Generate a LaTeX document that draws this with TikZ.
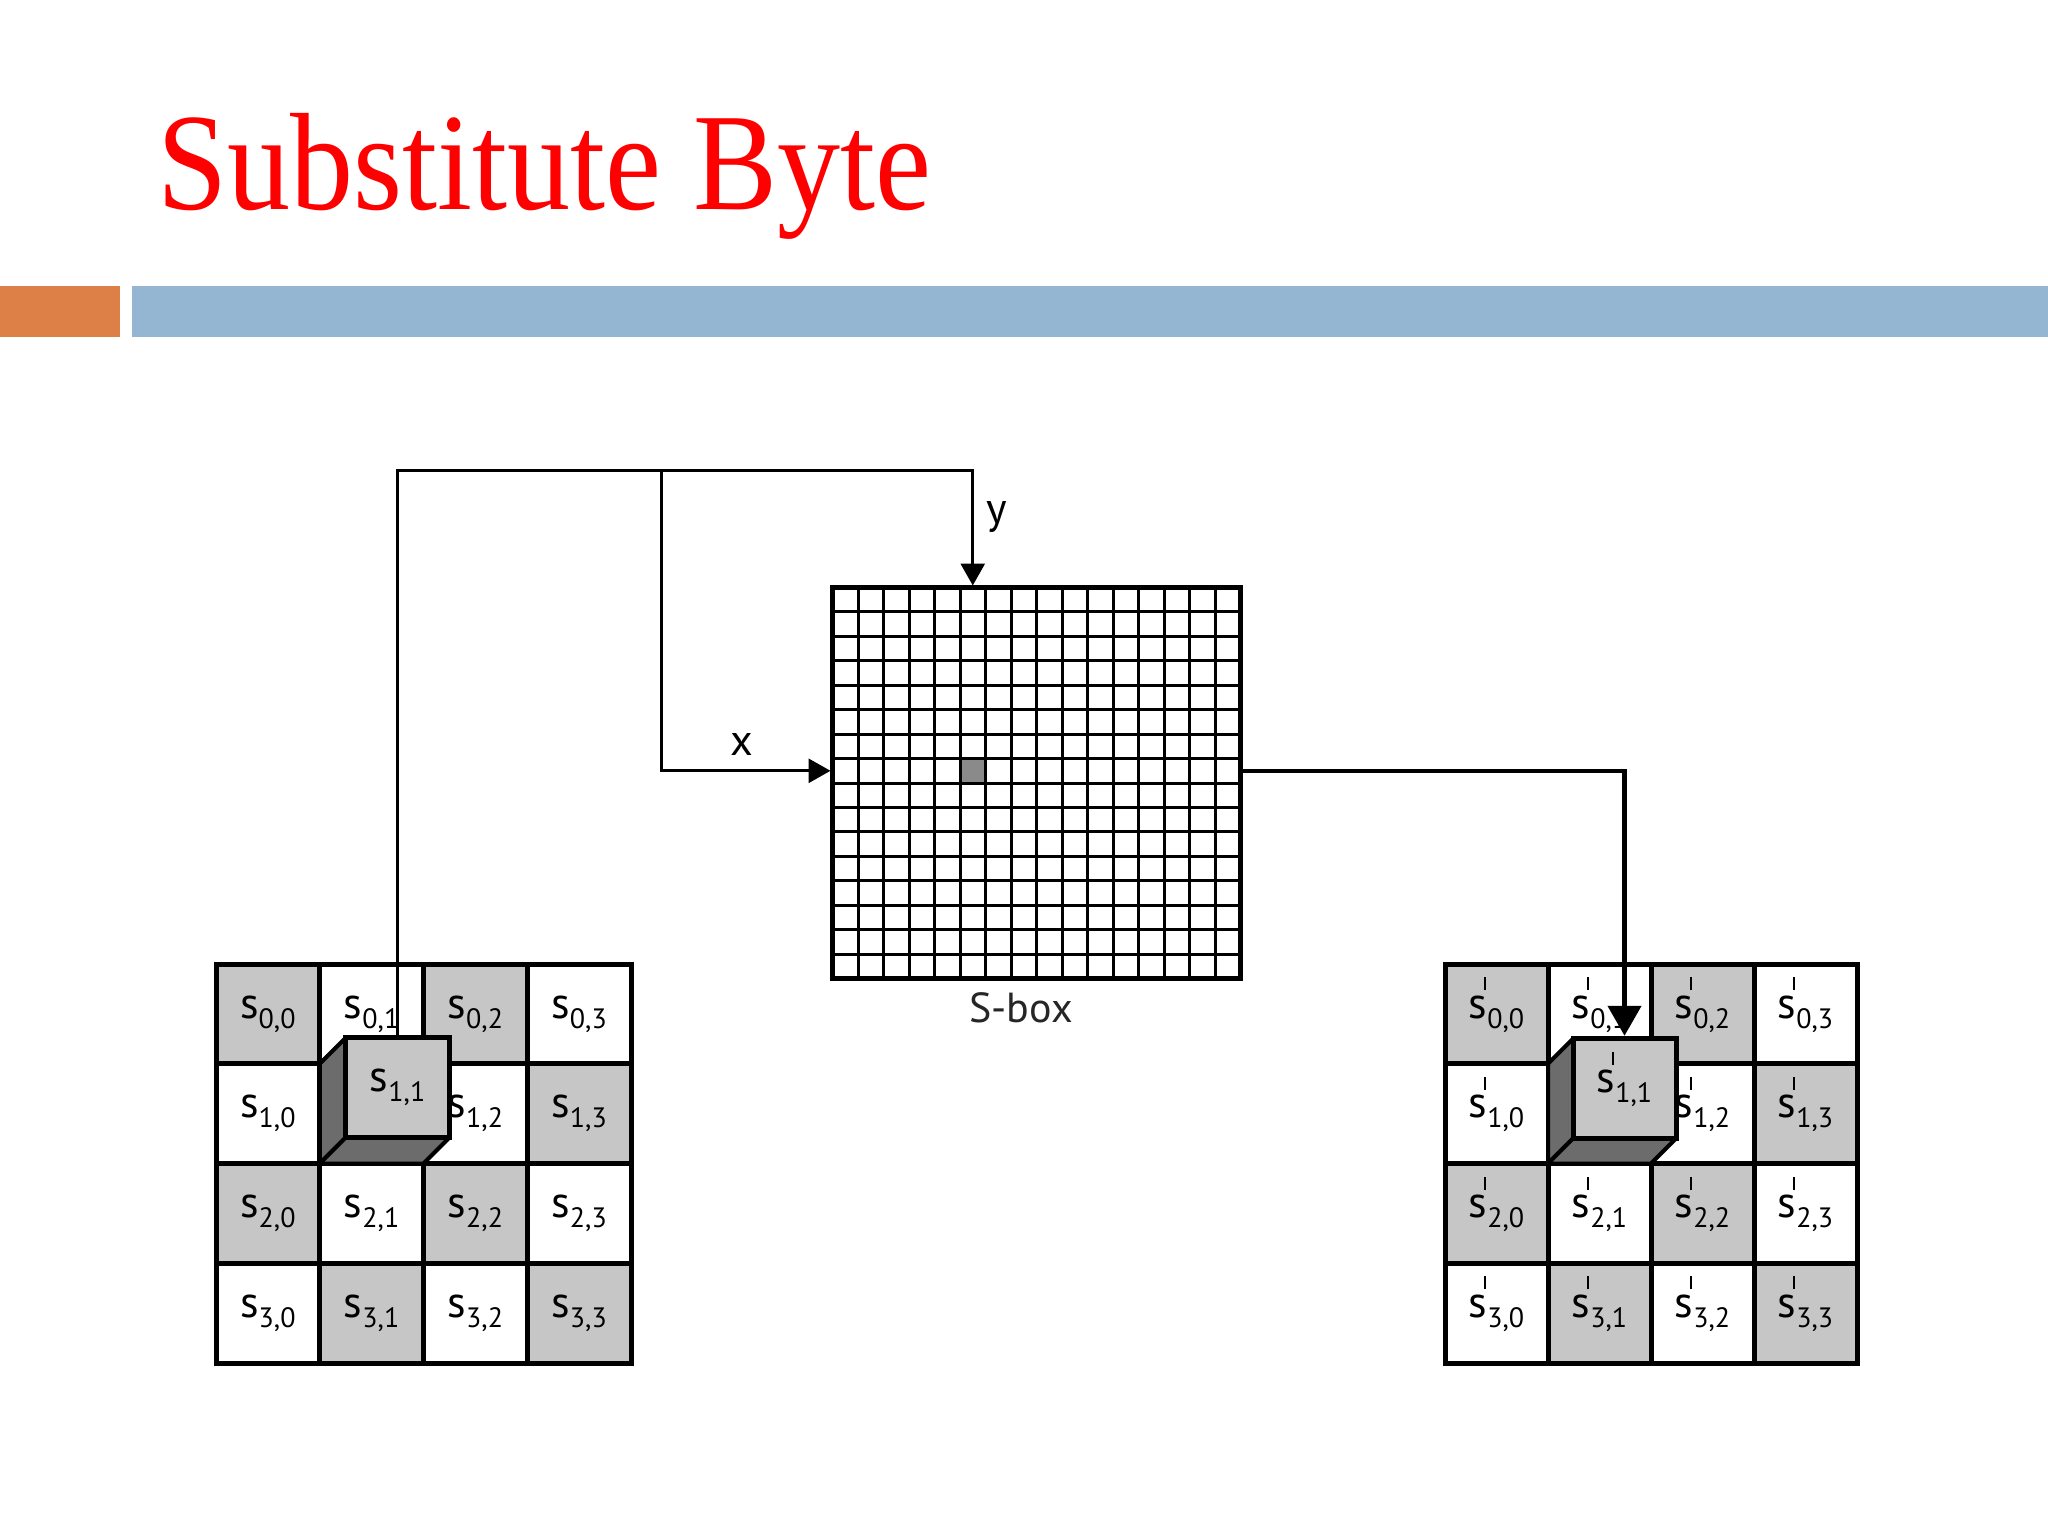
\documentclass[tikz,border=0pt]{standalone}
\usepackage{fontspec}
\setmainfont{PT Sans}
\newfontfamily\titlefont{Liberation Serif}
\usetikzlibrary{arrows.meta}
\definecolor{barorange}{HTML}{DD8047}
\definecolor{barblue}{HTML}{94B6D2}
\definecolor{cellgray}{HTML}{C6C6C6}
\definecolor{cubedark}{HTML}{6C6C6C}
\definecolor{sboxhit}{HTML}{8A8A8A}
\newcommand\subsc[1]{\raisebox{-5pt}{\fontsize{14}{14}\selectfont #1}}
\newcommand\sv[1]{s\subsc{#1}}
\newcommand\svp[1]{s\llap{\raisebox{14pt}[0pt][0pt]{\rule{1.3pt}{6.5pt}}\hspace{0.6pt}}\subsc{#1}}
\tikzset{
  lbl/.style={font=\fontsize{22}{22}\selectfont, inner sep=0pt},
  cellL/.style={draw, line width=2.5pt, minimum width=51.875pt, minimum height=49.875pt, inner sep=0pt, outer sep=0pt, font=\fontsize{22}{22}\selectfont},
  cellR/.style={cellL, minimum width=51.5pt},
  cubefront/.style={cellL, fill=cellgray},
  face/.style={fill=cubedark, draw=black, line width=2pt, line join=round},
  conn/.style={line width=1.5pt},
  outconn/.style={line width=2.25pt},
  inarrow/.style={-{Triangle[length=11pt,width=12pt]}, shorten >=1pt},
  outarrow/.style={-{Triangle[length=15pt,width=16.5pt]}, shorten >=1.5pt},
}
\begin{document}
\begin{tikzpicture}[x=0.5pt,y=-0.5pt]
\useasboundingbox (0,0) rectangle (2048,1536);
\fill[white] (0,0) rectangle (2048,1536);
% title and bars
\node[anchor=base west, text=red, font=\titlefont\fontsize{63}{63}\selectfont, inner sep=0pt] (title) at (157,209) {\scalebox{1}[1.1]{Substitute Byte}};
\fill[barorange] (0,286) rectangle (120,337);
\fill[barblue] (132,286) rectangle (2048,337);
% left state matrix
\foreach \r in {0,...,3}{
  \foreach \c in {0,...,3}{
    \pgfmathtruncatemacro\pp{mod(\r+\c,2)}
    \ifnum\pp=0 \def\cellfill{cellgray}\else\def\cellfill{white}\fi
    \ifnum\r\c=11 \def\celltxt{}\else\def\celltxt{\sv{\r,\c}}\fi
    \node[cellL, fill=\cellfill] (L-\r-\c) at ({216+(\c+0.5)*103.75},{964+(\r+0.5)*99.75}) {\celltxt};
  }
}
% right state matrix
\foreach \r in {0,...,3}{
  \foreach \c in {0,...,3}{
    \pgfmathtruncatemacro\pp{mod(\r+\c,2)}
    \ifnum\pp=0 \def\cellfill{cellgray}\else\def\cellfill{white}\fi
    \ifnum\r\c=11 \def\celltxt{}\else\def\celltxt{\svp{\r,\c}}\fi
    \node[cellR, fill=\cellfill] (R-\r-\c) at ({1445+(\c+0.5)*103},{964+(\r+0.5)*99.75}) {\celltxt};
  }
}
% S-box
\node[draw, line width=2.5pt, fill=white, minimum width=204pt, minimum height=195.5pt, inner sep=0pt, outer sep=0pt] (sbox) at (1036.5,783) {};
\fill[sboxhit] (960,758.6) rectangle (985.5,783);
\coordinate (hit) at (972.75,770.8);
\foreach \i in {1,...,15}{
  \draw[line width=1.5pt] ({832.5+\i*25.5},587.5) -- ++(0,391);
  \draw[line width=1.5pt] (832.5,{587.5+\i*24.4375}) -- ++(408,0);
}
\draw[line width=2.5pt] (sbox.north west) rectangle (sbox.south east);
\node[font=\fontsize{21}{21}\selectfont, text=black!85] (sboxlab) at (1021,1008) {S-box};
% left cube
\filldraw[face] (L-1-1.north west) -- ([shift={(26,-26)}]L-1-1.north west) -- ([shift={(26,-26)}]L-1-1.south west) -- (L-1-1.south west) -- cycle;
\filldraw[face] (L-1-1.south west) -- ([shift={(26,-26)}]L-1-1.south west) -- ([shift={(26,-26)}]L-1-1.south east) -- (L-1-1.south east) -- cycle;
\node[cubefront] (cubeL) at ([shift={(26,-26)}]L-1-1.center) {\sv{1,1}};
% right cube
\filldraw[face] (R-1-1.north west) -- ([shift={(25,-25)}]R-1-1.north west) -- ([shift={(25,-25)}]R-1-1.south west) -- (R-1-1.south west) -- cycle;
\filldraw[face] (R-1-1.south west) -- ([shift={(25,-25)}]R-1-1.south west) -- ([shift={(25,-25)}]R-1-1.south east) -- (R-1-1.south east) -- cycle;
\node[cubefront, minimum width=51.5pt] (cubeR) at ([shift={(25,-25)}]R-1-1.center) {\svp{1,1}};
% connectors
\coordinate (bend) at (661,470);
\draw[conn, inarrow] (cubeL.north) |- (bend) -| (hit |- sbox.north);
\draw[conn, inarrow] (bend) |- (hit -| sbox.west);
\draw[outconn, outarrow] (hit -| sbox.east) -| (cubeR.north);
\node[lbl] (xlab) at (742,744) {x};
\node[lbl] (ylab) at (997,517) {y};
\end{tikzpicture}
\end{document}
